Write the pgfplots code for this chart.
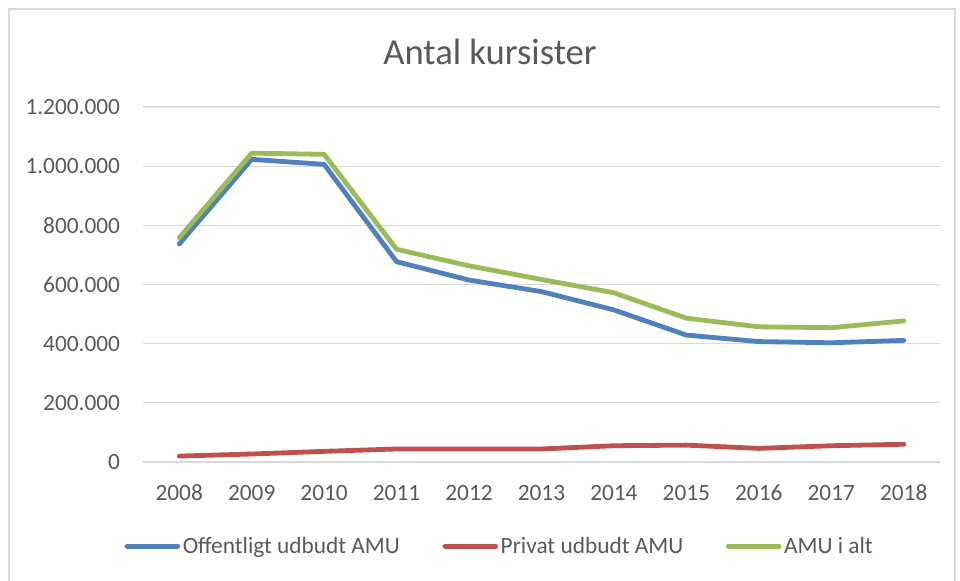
\documentclass[border=0pt]{standalone}
\usepackage{pgfplots}
\pgfplotsset{compat=1.18}
\usepackage{fontspec}
\setmainfont{Carlito}
\definecolor{cblue}{HTML}{4F81BD}
\definecolor{cred}{HTML}{C0504D}
\definecolor{cgreen}{HTML}{9BBB59}
\definecolor{lblgray}{HTML}{595959}
\definecolor{gridgray}{HTML}{D9D9D9}
\definecolor{framegray}{HTML}{D9D9D9}
\begin{document}
\begin{tikzpicture}[x=1pt,y=1pt]
\useasboundingbox (0,0) rectangle (720,435.75);
\draw[color=framegray, line width=1.6pt] (6.75,-10) rectangle (716.25,429.2);
\node[text=lblgray, font=\fontsize{27.5}{32}\selectfont] at (367.5,396.75) {Antal kursister};
\begin{axis}[
  at={(107.25pt,89.25pt)}, anchor=south west,
  scale only axis, width=597.75pt, height=266.25pt,
  xmin=2007.5, xmax=2018.5, ymin=0, ymax=1200000,
  xtick={2008,2009,...,2018},
  xticklabels={2008,2009,2010,2011,2012,2013,2014,2015,2016,2017,2018},
  ytick={0,200000,400000,600000,800000,1000000,1200000},
  yticklabels={0,200.000,400.000,600.000,800.000,1.000.000,1.200.000},
  scaled y ticks=false,
  x tick label style={inner sep=0pt, yshift=-17pt, anchor=north, text=lblgray, font=\fontsize{17.5}{20}\selectfont},
  y tick label style={inner sep=0pt, xshift=-17pt, anchor=east, text=lblgray, font=\fontsize{17.5}{20}\selectfont},
  axis line style={draw=none},
  tick style={draw=none},
  major tick length=0pt,
  ymajorgrids, grid style={gridgray, line width=0.8pt},
  legend style={at={(0.448,-0.237)}, anchor=center, draw=none, fill=none,
    legend columns=3, font=\fontsize{17.5}{20}\selectfont, text=lblgray,
    /tikz/every even column/.append style={column sep=30pt},
    nodes={inner sep=2pt}},
  legend image code/.code={\draw[line width=3.6pt, line cap=round] (0pt,0pt) -- (38pt,0pt);},
  every axis plot/.append style={line width=3.6pt, line join=round, line cap=round, mark=none},
]
\addplot[cblue] coordinates {
(2008,737000) (2009,1023000) (2010,1006000) (2011,677000) (2012,615000) (2013,576000)
(2014,514000) (2015,429000) (2016,407000) (2017,403000) (2018,411000)};
\addlegendentry{Offentligt udbudt AMU}
\addplot[cred] coordinates {
(2008,20000) (2009,27000) (2010,36000) (2011,44000) (2012,44000) (2013,44000)
(2014,55000) (2015,57000) (2016,46000) (2017,55000) (2018,60000)};
\addlegendentry{Privat udbudt AMU}
\addplot[cgreen] coordinates {
(2008,758000) (2009,1044000) (2010,1040000) (2011,719000) (2012,663000) (2013,617000)
(2014,572000) (2015,486000) (2016,457000) (2017,454000) (2018,477000)};
\addlegendentry{AMU i alt}
\end{axis}
\end{tikzpicture}
\end{document}
